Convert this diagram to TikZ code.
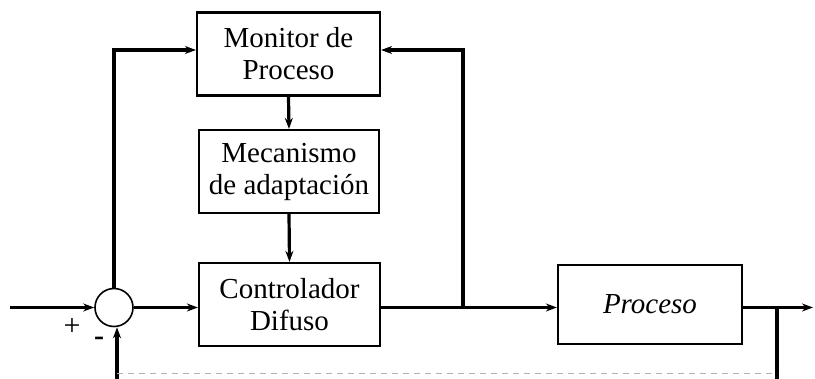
\documentclass[tikz,border=0pt]{standalone}
\usepackage{fontspec}
\setmainfont{Liberation Serif}
\usetikzlibrary{arrows.meta}
\begin{document}
\begin{tikzpicture}[x=1pt,y=-1pt,
  blk/.style={draw,line width=2.2pt,minimum width=#1,inner sep=0pt,align=center,
    font=\fontsize{29}{32}\selectfont},
  wire/.style={line width=3.2pt},
  arr/.style={wire,-{Stealth[length=11pt,width=8pt]}},
  feed/.style={line width=0.8pt,gray!60,dash pattern=on 6pt off 5pt}]
\useasboundingbox (0,0) rectangle (815,379);
\node[blk=183pt,minimum height=83pt] (mon) at (288.5,54) {Monitor de\\Proceso};
\node[blk=180pt,minimum height=83pt] (mec) at (289,171.5) {Mecanismo\\de adaptación};
\node[blk=181pt,minimum height=83pt] (ctl) at (289.5,304.5) {Controlador\\Difuso};
\node[blk=184pt,minimum height=79pt,font=\fontsize{29}{32}\selectfont\itshape] (pro) at (650,304.5) {Proceso};
\node[draw,circle,line width=1.6pt,minimum size=38pt,inner sep=0pt] (sum) at (114,307.5) {};
\coordinate (in) at (10,307.5);
\coordinate (out) at (813,307.5);
\coordinate (b1) at (463,307.5);
\coordinate (b2) at (777,307.5);
\coordinate (lt) at (114,50);
\coordinate (rt) at (463,50);
\coordinate (rb) at (777,379);
\coordinate (lb) at (117,379);
\coordinate (fb) at (117,373);
\coordinate (fr) at (777,373);
\node[font=\fontsize{30}{30}\selectfont] (plus) at (72,327) {+};
\node[font=\fontsize{30}{30}\selectfont\bfseries] (minus) at (99,341) {-};
\draw[arr] (in) -- (sum.west);
\draw[arr] (sum.east) -- (sum.east -| ctl.west);
\draw[arr] (ctl.east |- b1) -- (b1 -| pro.west);
\draw[arr] (b1 -| pro.east) -- (out);
\draw[arr] (sum.north) -- (lt) -- (mon.west |- lt);
\draw[arr] (b1) -- (rt) -- (mon.east |- rt);
\draw[arr] (mon.south) -- (mec.north);
\draw[arr] (mec.south) -- (ctl.north);
\draw[wire] (b2) -- (rb);
\draw[arr] (lb) -- (sum.south -| lb);
\draw[feed] (fb) -- (fr);
\end{tikzpicture}
\end{document}
